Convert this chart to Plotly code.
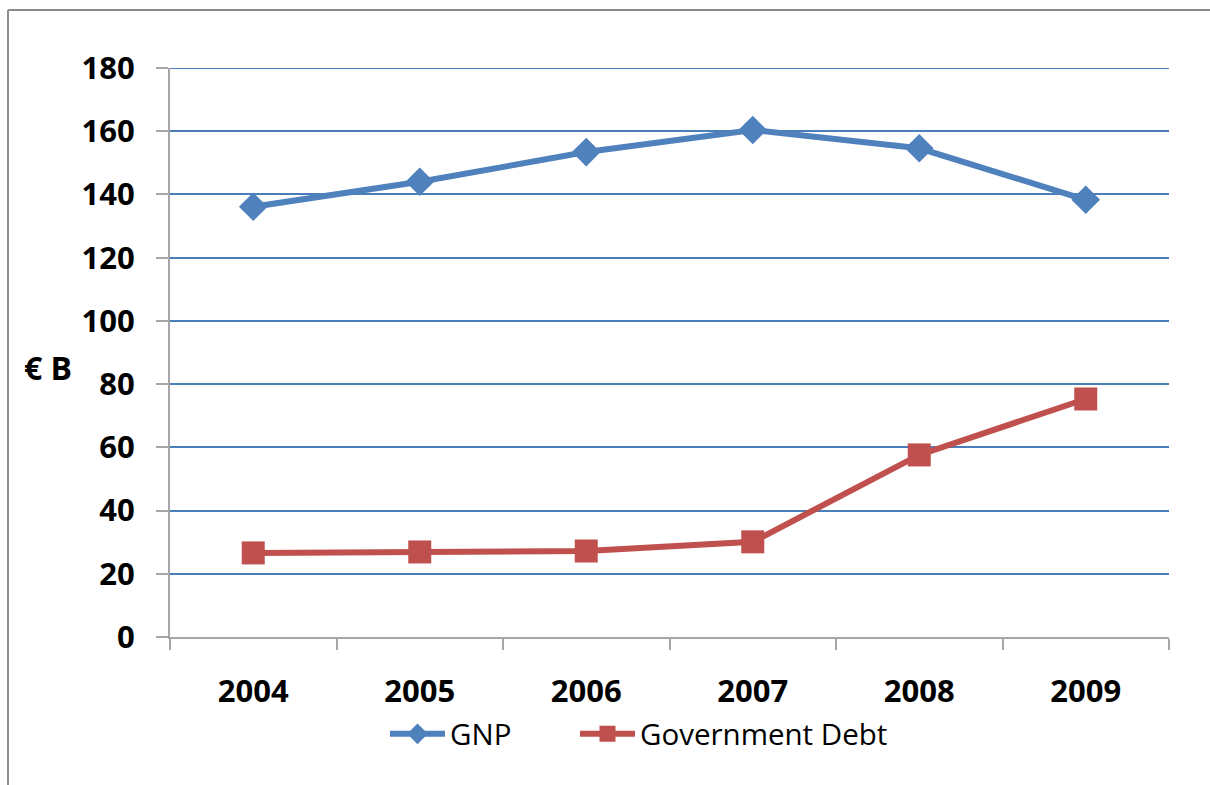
import plotly.graph_objects as go

years = ["2004", "2005", "2006", "2007", "2008", "2009"]
gnp = [136.1, 144.0, 153.4, 160.4, 154.6, 138.3]
government_debt = [26.6, 26.9, 27.2, 30.1, 57.6, 75.3]
y_ticks = [0, 20, 40, 60, 80, 100, 120, 140, 160, 180]

BLUE = "#4F81BD"
RED = "#C0504D"
GRID = "#4A7EBB"
AXIS = "#A6A6A6"
FONT = "Open Sans"

fig = go.Figure()
fig.add_trace(go.Scatter(
    x=years, y=gnp, name="GNP", mode="lines+markers",
    line=dict(color=BLUE, width=6),
    marker=dict(symbol="diamond", size=22, color=BLUE),
    legend="legend",
))
fig.add_trace(go.Scatter(
    x=years, y=government_debt, name="Government Debt", mode="lines+markers",
    line=dict(color=RED, width=6),
    marker=dict(symbol="square", size=23, color=RED),
    legend="legend2",
))

legend_style = dict(
    orientation="h", xanchor="left", y=-0.125, yanchor="top",
    font=dict(family=FONT, size=29.5, color="black"),
    itemwidth=55, bgcolor="rgba(0,0,0,0)",
)

fig.update_layout(
    width=1210, height=785,
    margin=dict(l=170, r=41, t=68, b=148),
    paper_bgcolor="white", plot_bgcolor="white",
    font=dict(family=FONT, color="black"),
    showlegend=True,
    legend=dict(x=(385 - 170) / 999, **legend_style),
    legend2=dict(x=(575 - 170) / 999, **legend_style),
    xaxis=dict(
        type="category", range=[-0.5, 5.5],
        tickson="boundaries", ticks="outside", ticklen=11, tickwidth=2, tickcolor=AXIS,
        showline=True, linecolor=AXIS, linewidth=2,
        showgrid=False,
        tickfont=dict(family=FONT, size=31, color="black", weight="bold"),
        ticklabelstandoff=26,
    ),
    yaxis=dict(
        range=[0, 180], tickvals=y_ticks,
        ticks="outside", ticklen=12, tickwidth=2, tickcolor=AXIS,
        showline=True, linecolor=AXIS, linewidth=2,
        showgrid=True, gridcolor=GRID, gridwidth=2,
        zeroline=False,
        tickfont=dict(family=FONT, size=31, color="black", weight="bold"),
        ticklabelstandoff=15,
    ),
)

# Top gridline at the upper end of the value range
fig.add_shape(type="line", xref="paper", yref="y", layer="below",
              x0=0, x1=1, y0=y_ticks[-1], y1=y_ticks[-1],
              line=dict(color=GRID, width=2))

# Unit label beside the value axis
fig.add_annotation(
    text="€ B", xref="paper", yref="paper",
    x=(22 - 170) / 999, xanchor="left",
    y=(637 - 367) / 569, yanchor="middle",
    showarrow=False,
    font=dict(family=FONT, size=32, color="black", weight="bold"),
)

# Chart frame: left and top edges
fig.add_shape(type="line", xref="paper", yref="paper",
              x0=(8 - 170) / 999, x1=(8 - 170) / 999,
              y0=(637 - 790) / 569, y1=(637 - 10) / 569,
              line=dict(color="#8C8C8C", width=2))
fig.add_shape(type="line", xref="paper", yref="paper",
              x0=(8 - 170) / 999, x1=(1215 - 170) / 999,
              y0=(637 - 10) / 569, y1=(637 - 10) / 569,
              line=dict(color="#8C8C8C", width=2))

fig.write_html("out.html")
